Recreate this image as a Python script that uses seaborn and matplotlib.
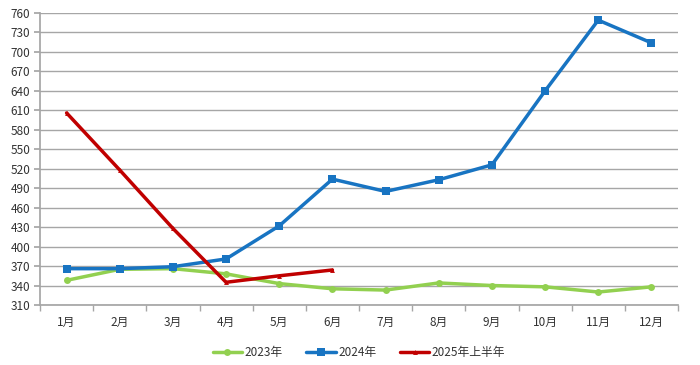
import matplotlib
matplotlib.use("Agg")
import matplotlib.pyplot as plt
import seaborn as sns
import pandas as pd

months = ["1月", "2月", "3月", "4月", "5月", "6月", "7月", "8月", "9月", "10月", "11月", "12月"]
series_names = ["2023年", "2024年", "2025年上半年"]
v2023 = [348, 365, 366, 358, 343, 335, 333, 344, 340, 338, 330, 338]
v2024 = [366, 366, 369, 381, 432, 504, 485, 503, 526, 640, 749, 714]
v2025 = [606, 518, 428, 345, 355, 364]
yticks = list(range(310, 761, 30))

colors = {"2023年": "#92D050", "2024年": "#1874C2", "2025年上半年": "#C00000"}
markers = {"2023年": "o", "2024年": "s", "2025年上半年": "^"}
msizes = {"2023年": 5, "2024年": 5.5, "2025年上半年": 3.5}

rows = []
for name, vals in zip(series_names, [v2023, v2024, v2025]):
    for i, v in enumerate(vals):
        rows.append({"month": i, "value": v, "series": name})
df = pd.DataFrame(rows)

sns.set_theme(style="white")
plt.rcParams["font.family"] = ["Noto Sans CJK SC", "DejaVu Sans"]

fig = plt.figure(figsize=(7, 3.65), dpi=100)
ax = fig.add_axes([40 / 700, 1 - 305 / 365, 638 / 700, 292 / 365])

for name in series_names:
    sub = df[df["series"] == name]
    sns.lineplot(data=sub, x="month", y="value", ax=ax, color=colors[name],
                 marker=markers[name], markersize=msizes[name], markeredgewidth=0,
                 linewidth=2.5, label=name)

ax.set_xlim(-0.5, 11.5)
ax.set_ylim(310, 760)
ax.set_yticks(yticks)
ax.set_yticklabels([str(t) for t in yticks], fontsize=8.5, color="#333333")
ax.set_xticks(range(12))
ax.set_xticklabels(months, fontsize=8.5, color="#333333")
ax.set_xlabel("")
ax.set_ylabel("")
ax.yaxis.grid(True, color="#a6a6a6", linewidth=1)
ax.set_axisbelow(True)
for s in ["top", "right"]:
    ax.spines[s].set_visible(False)
ax.spines["left"].set_color("#a6a6a6")
ax.spines["bottom"].set_color("#a6a6a6")
ax.tick_params(axis="y", length=4, color="#a6a6a6", left=True, pad=3)
ax.tick_params(axis="x", length=0, pad=8)
# boundary ticks on x-axis
ax.set_xticks([i - 0.5 for i in range(13)], minor=True)
ax.tick_params(axis="x", which="minor", length=4, color="#a6a6a6", bottom=True)

leg = ax.legend(loc="center", bbox_to_anchor=(0.5, -0.163), ncol=3, frameon=False,
                fontsize=8.5, handlelength=2.5, columnspacing=2.0, handletextpad=0.2,
                borderpad=0.1)
for t in leg.get_texts():
    t.set_color("#333333")

fig.savefig("out.png", dpi=100)
